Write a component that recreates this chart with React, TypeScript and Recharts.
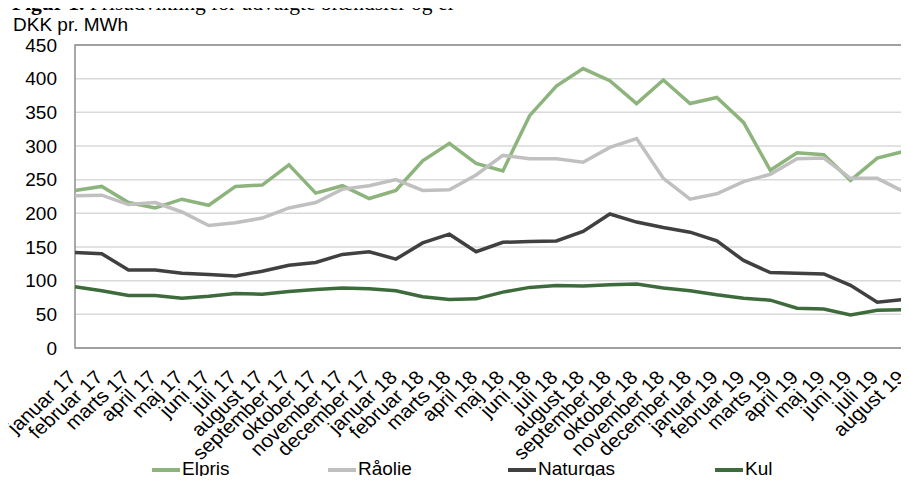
import React from 'react';
import {
  LineChart,
  Line,
  XAxis,
  YAxis,
  CartesianGrid,
  ReferenceArea,
  Legend,
} from 'recharts';

const months = [
  'januar 17', 'februar 17', 'marts 17', 'april 17', 'maj 17', 'juni 17',
  'juli 17', 'august 17', 'september 17', 'oktober 17', 'november 17', 'december 17',
  'januar 18', 'februar 18', 'marts 18', 'april 18', 'maj 18', 'juni 18',
  'juli 18', 'august 18', 'september 18', 'oktober 18', 'november 18', 'december 18',
  'januar 19', 'februar 19', 'marts 19', 'april 19', 'maj 19', 'juni 19',
  'juli 19', 'august 19',
];

const elpris = [
  234, 240, 216, 208, 221, 212, 240, 242, 272, 230, 241, 222,
  234, 278, 304, 274, 263, 345, 389, 415, 397, 363, 398, 363,
  372, 335, 264, 290, 287, 249, 282, 292,
];

const raolie = [
  226, 227, 213, 216, 202, 182, 186, 193, 208, 216, 236, 241,
  250, 234, 235, 257, 286, 281, 281, 276, 298, 311, 252, 221,
  229, 247, 258, 281, 282, 252, 252, 232,
];

const naturgas = [
  142, 140, 116, 116, 111, 109, 107, 114, 123, 127, 139, 143,
  132, 156, 169, 143, 157, 158, 159, 173, 199, 187, 179, 172,
  159, 130, 112, 111, 110, 93, 68, 72,
];

const kul = [
  91, 85, 78, 78, 74, 77, 81, 80, 84, 87, 89, 88,
  85, 76, 72, 73, 83, 90, 93, 92, 94, 95, 89, 85,
  79, 74, 71, 59, 58, 49, 56, 57,
];

const yTicks = [0, 50, 100, 150, 200, 250, 300, 350, 400, 450];

const series = [
  { key: 'Elpris', values: elpris, color: '#8DB47C' },
  { key: 'Råolie', values: raolie, color: '#C0C0C0' },
  { key: 'Naturgas', values: naturgas, color: '#404040' },
  { key: 'Kul', values: kul, color: '#3E6B3C' },
];

const data = months.map((month, i) => {
  const row: Record<string, string | number> = { month };
  series.forEach((s) => {
    row[s.key] = s.values[i];
  });
  return row;
});

const FONT = '"Liberation Sans", Arial, sans-serif';

// where each legend entry starts, like Excel spread them out
const legendLeft = [152, 328, 508, 715];

// labels are a little wider than tall in the original, so stretch them a bit
const MonthTick = ({ x, y, payload }: any) => (
  <g transform={`translate(${x - 8},${y + 2})`}>
    <text
      transform="scale(1.1,1) rotate(-45)"
      textAnchor="end"
      dy="0.71em"
      fontSize={19}
      fontFamily={FONT}
      fill="#000"
    >
      {payload.value}
    </text>
  </g>
);

// legend keeps the series order, not recharts' sorted payload
const LegendRow = () => (
  <div
    style={{
      position: 'relative',
      height: 22,
      fontFamily: FONT,
      fontSize: 19,
      color: '#000',
      transform: 'translateY(-4px)',
    }}
  >
    {series.map((s, i) => (
      <div
        key={s.key}
        style={{
          position: 'absolute',
          left: legendLeft[i],
          top: 0,
          height: 22,
          display: 'flex',
          alignItems: 'center',
          whiteSpace: 'nowrap',
        }}
      >
        <span
          style={{
            display: 'inline-block',
            width: 28,
            height: 4,
            marginTop: 2,
            marginRight: 2,
            background: s.color,
          }}
        />
        <span>{s.key}</span>
      </div>
    ))}
  </div>
);

export default function App() {
  return (
    <div
      style={{
        position: 'relative',
        width: 909,
        height: 484,
        margin: -8,
        overflow: 'hidden',
        background: '#fff',
      }}
    >
      <div
        style={{
          position: 'absolute',
          left: 12,
          top: -7,
          fontFamily: '"Liberation Serif", "Times New Roman", serif',
          fontSize: 21.5,
          lineHeight: 1,
          whiteSpace: 'nowrap',
          color: '#000',
        }}
      >
        <b>Figur 1.</b> Prisudvikling for udvalgte brændsler og el
      </div>
      <div
        style={{
          position: 'absolute',
          left: 13,
          top: 15,
          fontFamily: FONT,
          fontSize: 19,
          lineHeight: 1,
          whiteSpace: 'nowrap',
          color: '#000',
        }}
      >
        DKK pr. MWh
      </div>
      <LineChart
        width={909}
        height={484}
        data={data}
        margin={{ top: 45, right: 5, left: 0, bottom: 0 }}
      >
        <CartesianGrid vertical={false} stroke="#D9D9D9" strokeWidth={1.5} />
        <XAxis
          dataKey="month"
          interval={0}
          height={114}
          tickSize={0}
          tickMargin={19}
          axisLine={false}
          tickLine={false}
          tick={<MonthTick />}
        />
        <YAxis
          width={75}
          domain={[0, 450]}
          ticks={yTicks}
          interval={0}
          tickSize={0}
          tickMargin={18}
          axisLine={false}
          tickLine={false}
          tick={{ fontSize: 19, fontFamily: FONT, fill: '#000' }}
        />
        <ReferenceArea
          x1={months[0]}
          x2={months[months.length - 1]}
          y1={0}
          y2={450}
          fill="none"
          stroke="#8C8C8C"
          strokeWidth={1.5}
          ifOverflow="visible"
        />
        {series.map((s) => (
          <Line
            key={s.key}
            type="linear"
            dataKey={s.key}
            stroke={s.color}
            strokeWidth={3.5}
            dot={false}
            activeDot={false}
            isAnimationActive={false}
          />
        ))}
        <Legend verticalAlign="bottom" content={<LegendRow />} />
      </LineChart>
    </div>
  );
}
